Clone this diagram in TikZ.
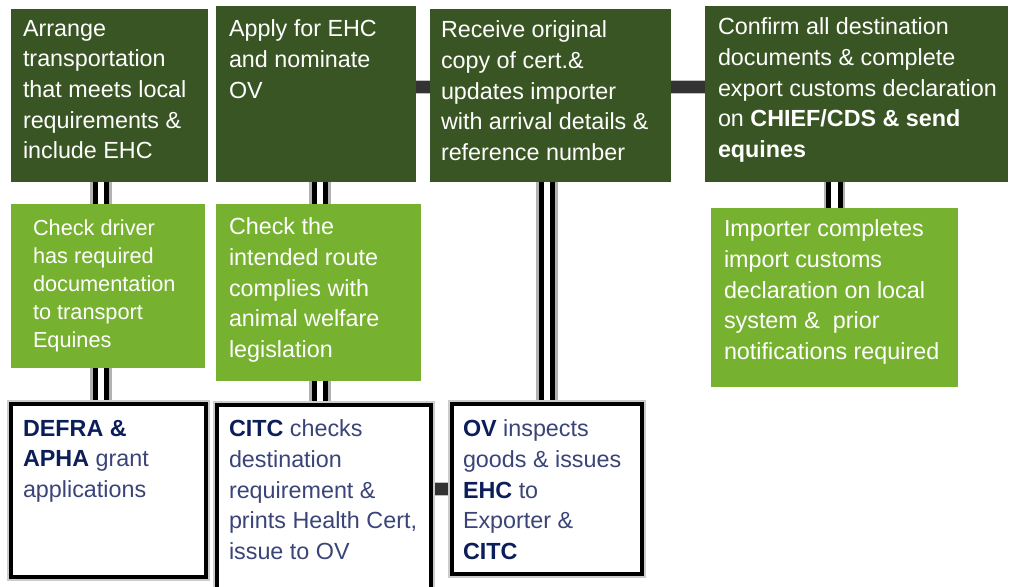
\documentclass[tikz,border=0pt]{standalone}
\usepackage{fontspec}
\setmainfont{Liberation Sans}
\usetikzlibrary{fit,calc,backgrounds}
\definecolor{dg}{RGB}{58,85,36}
\definecolor{lg}{RGB}{118,178,47}
\definecolor{navy}{RGB}{12,30,90}
\definecolor{slate}{RGB}{58,68,120}
\definecolor{conn}{RGB}{51,51,51}
\newcommand{\bnav}[1]{\textbf{\color{navy}#1}}
\tikzset{
 box/.style={inner sep=0pt, outer sep=0pt},
 dgbox/.style={box, fill=dg},
 lgbox/.style={box, fill=lg},
 wbox/.style={box, fill=white, draw=black, line width=3pt, preaction={draw=gray!40, line width=6pt}},
 txt/.style={inner sep=0pt, outer sep=0pt, anchor=north west, align=left, font=\fontsize{17.5pt}{23pt}\selectfont},
 dtxt/.style={txt, text=white},
 wtxt/.style={txt, text=slate},
 dbl/.style={draw=black, line width=12.4pt, preaction={draw=gray!60, line width=16.2pt}, postaction={draw=white, line width=5.2pt}},
 hconn/.style={draw=conn, line width=9pt, preaction={draw=gray!50, line width=11pt}},
}
\begin{document}
\begin{tikzpicture}[x=0.75pt, y=-0.75pt]
\useasboundingbox (0,0) rectangle (1014,586);
\clip (0,0) rectangle (1014,586);
% boxes
\node[dgbox, fit={(11,9) (208,182)}] (dg1) {};
\node[dgbox, fit={(216,6) (416,182)}] (dg2) {};
\node[dgbox, fit={(430,9) (671,182)}] (dg3) {};
\node[dgbox, fit={(705,6) (1008,182)}] (dg4) {};
\node[lgbox, fit={(11,204) (205,368)}] (lg1) {};
\node[lgbox, fit={(216,204) (421,381)}] (lg2) {};
\node[lgbox, fit={(711,208) (958,387)}] (lg3) {};
\node[wbox, fit={(11,404) (206,577)}] (w1) {};
\node[wbox, fit={(217,405) (431,600)}] (w2) {};
\node[wbox, fit={(452,404) (642,574)}] (w3) {};
% connectors
\coordinate (c1) at (101,0);
\coordinate (c2) at (320,0);
\coordinate (hy) at (0,87);
\begin{scope}[on background layer]
\draw[dbl] (dg1.south -| c1) -- (lg1.north -| c1);
\draw[dbl] (lg1.south -| c1) -- (w1.north -| c1);
\draw[dbl] (dg2.south -| c2) -- (lg2.north -| c2);
\draw[dbl] (lg2.south -| c2) -- (w2.north -| c2);
\draw[dbl] (dg3.south -| w3.north) -- (w3.north);
\draw[dbl] (dg4.south -| lg3.north) -- (lg3.north);
\draw[hconn] (dg2.east |- hy) -- (dg3.west |- hy);
\draw[hconn] (dg3.east |- hy) -- (dg4.west |- hy);
\draw[hconn] (w2.east |- w3.west) -- (w3.west);
\end{scope}
% texts
\node[dtxt] (t1) at (23,20) {Arrange\\transportation\\that meets local\\requirements \&\\include EHC};
\node[dtxt] (t2) at (229,20) {Apply for EHC\\and nominate\\OV};
\node[dtxt] (t3) at (441,21) {Receive original\\copy of cert.\&\\updates importer\\with arrival details \&\\reference number};
\node[dtxt] (t4) at (718,18) {Confirm all destination\\documents \& complete\\export customs declaration\\on \textbf{CHIEF/CDS \& send}\\\textbf{equines}};
\node[dtxt, font=\fontsize{16.3pt}{21pt}\selectfont] (t5) at (33,220) {Check driver\\has required\\documentation\\to transport\\Equines};
\node[dtxt] (t6) at (229,218) {Check the\\intended route\\complies with\\animal welfare\\legislation};
\node[dtxt] (t7) at (724,220) {Importer completes\\import customs\\declaration on local\\system \&~ prior\\notifications required};
\node[wtxt] (t8) at (23,420) {\bnav{DEFRA \&}\\\bnav{APHA} grant\\applications};
\node[wtxt] (t9) at (229,420) {\bnav{CITC} checks\\destination\\requirement \&\\prints Health Cert,\\issue to OV};
\node[wtxt] (t10) at (463,420) {\bnav{OV} inspects\\goods \& issues\\\bnav{EHC} to\\Exporter \&\\\bnav{CITC}};
\end{tikzpicture}
\end{document}
